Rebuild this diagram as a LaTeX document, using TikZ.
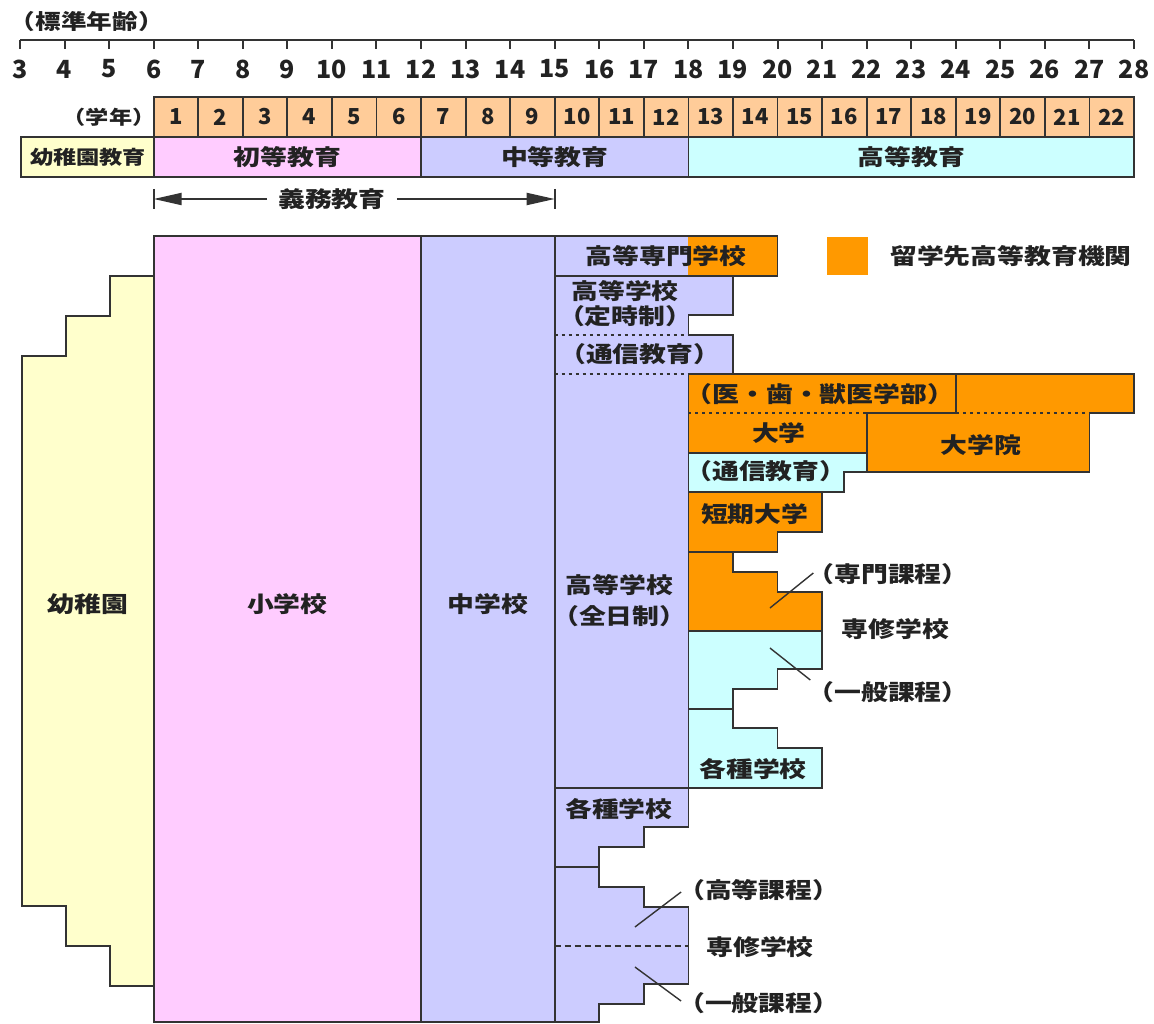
\documentclass[tikz,border=0pt]{standalone}
\usepackage{fontspec}
\usepackage{graphicx}
\usetikzlibrary{arrows.meta}
\newfontfamily\jpf{Noto Sans CJK JP}[FakeStretch=1.22]
\newfontfamily\numf{Noto Sans CJK JP}
\definecolor{cYel}{HTML}{FFFFCC}
\definecolor{cPink}{HTML}{FFCCFF}
\definecolor{cLav}{HTML}{CCCCFF}
\definecolor{cCyan}{HTML}{CCFFFF}
\definecolor{cOr}{HTML}{FF9900}
\definecolor{cGr}{HTML}{FFCC99}
\definecolor{ln}{HTML}{333333}
\definecolor{txt}{HTML}{222222}
\tikzset{
  lab/.style={font=\jpf\bfseries\fontsize{22}{24}\selectfont, text=txt, inner sep=0pt},
  labs/.style={font=\jpf\bfseries\fontsize{19}{21}\selectfont, text=txt, inner sep=0pt},
  rnum/.style={font=\numf\bfseries\fontsize{25}{27}\selectfont, text=txt, inner sep=0pt},
  gnum/.style={font=\numf\bfseries\fontsize{22}{24}\selectfont, text=txt, inner sep=0pt},
  box/.style={draw=ln, line width=1.8pt, line join=miter},
  dotl/.style={draw=ln, line width=2.6pt, dash pattern=on 3pt off 4pt},
  dashl/.style={draw=ln, line width=1.8pt, dash pattern=on 6pt off 4pt},
  lead/.style={draw=ln, line width=1.4pt},
  tick/.style={draw=ln, line width=2pt},
  garrow/.style={draw=ln, line width=2pt, -{Triangle[length=28pt,width=12pt]}},
}
\begin{document}
\begin{tikzpicture}[x=44.56pt,y=-1pt]
\useasboundingbox (2.5512,0) rectangle (28.4488,1024);
% ---------- ruler ----------
\node[lab, font=\jpf\bfseries\fontsize{21}{23}\selectfont] (std) at (4.50,22) {（標準年齢）};
\draw[tick, line width=2.5pt] (3,40) -- (28,40);
\foreach \a in {3,...,28} {
  \draw[tick] (\a,40) -- (\a,49);
  \node[rnum] (r\a) at (\a,69) {\a};
}
% ---------- grade row ----------
\node[labs] (gakunen) at (5.0,117) {（学年）};
\foreach \i in {1,...,22} {
  \filldraw[box, fill=cGr] ({5+\i},97) rectangle ({6+\i},137);
  \node[gnum] (g\i) at ({5.5+\i},117) {\i};
}
% ---------- education row ----------
\filldraw[box, fill=cYel] (3.03,137) rectangle (6,177);
\filldraw[box, fill=cPink] (6,137) rectangle (12,177);
\filldraw[box, fill=cLav] (12,137) rectangle (18,177);
\filldraw[box, fill=cCyan] (18,137) rectangle (28,177);
\node[labs] (eK) at (4.53,157) {幼稚園教育};
\node[lab] (eP) at (9,157) {初等教育};
\node[lab] (eS) at (15,157) {中等教育};
\node[lab] (eH) at (23,157) {高等教育};
% ---------- compulsory education ----------
\coordinate (gL) at (6,199);
\coordinate (gR) at (15,199);
\draw[tick] (6,189) -- (6,209);
\draw[tick] (15,189) -- (15,209);
\node[lab, inner xsep=11pt, fill=white] (gimu) at (10,199) {義務教育};
\draw[garrow] (gimu.west) -- (gL);
\draw[garrow] (gimu.east) -- (gR);
% ---------- kindergarten / elementary / middle ----------
\filldraw[box, fill=cYel] (6,276) -- (5.02,276) -- (5.02,316) -- (4.03,316) -- (4.03,356) -- (3.04,356) -- (3.04,906) -- (4.03,906) -- (4.03,946) -- (5.02,946) -- (5.02,986) -- (6,986);
\filldraw[box, fill=cPink] (6,236) rectangle (12,1022);
\filldraw[box, fill=cLav] (12,236) rectangle (15,1022);
\node[lab] (yochien) at (4.53,604) {幼稚園};
\node[lab] (shogakko) at (9,604) {小学校};
\node[lab] (chugakko) at (13.5,604) {中学校};
% ---------- college of technology ----------
\fill[cLav] (15,236) rectangle (18,276);
\fill[cOr] (18,236) rectangle (20,276);
\draw[box] (15,236) rectangle (20,276);
\node[lab] (kosen) at (17.50,256) {高等専門学校};
% ---------- upper secondary ----------
\filldraw[box, fill=cLav] (15,276) -- (19,276) -- (19,315) -- (18,315) -- (18,335) -- (19,335) -- (19,374) -- (18,374) -- (18,788) -- (15,788) -- cycle;
\draw[dotl] (15,335) -- (18,335);
\draw[dotl] (15,374) -- (18,374);
\node[lab] (teiji1) at (16.58,291) {高等学校};
\node[lab] (teiji2) at (16.58,316) {（定時制）};
\node[lab] (tsushin1) at (16.91,354) {（通信教育）};
\node[lab] (zen1) at (16.45,585) {高等学校};
\node[lab] (zen2) at (16.45,616) {（全日制）};
% ---------- university ----------
\filldraw[box, fill=cOr] (18,374) -- (28,374) -- (28,413) -- (27,413) -- (27,472) -- (22,472) -- (22,453) -- (18,453) -- cycle;
\draw[box] (24,374) -- (24,413) -- (22,413) -- (22,472);
\draw[dotl] (18,413) -- (22,413);
\draw[dotl] (24,413) -- (27,413);
\filldraw[box, fill=cCyan] (18,453) -- (22,453) -- (22,472) -- (21.5,472) -- (21.5,492) -- (18,492) -- cycle;
\draw[dotl] (18,453) -- (22,453);
\node[lab] (igaku) at (20.95,394) {（医・歯・獣医学部）};
\node[lab] (daigaku) at (20.03,433) {大学};
\node[lab] (daigakuin) at (24.57,445) {大学院};
\node[lab] (tsushin2) at (19.74,471) {（通信教育）};
% ---------- junior college ----------
\filldraw[box, fill=cOr] (18,492) -- (21,492) -- (21,532) -- (20,532) -- (20,552) -- (18,552) -- cycle;
\node[lab] (tanki) at (19.49,514) {短期大学};
% ---------- specialized training college ----------
\filldraw[box, fill=cOr] (18,552) -- (19,552) -- (19,572) -- (20,572) -- (20,592) -- (21,592) -- (21,631) -- (18,631) -- cycle;
\filldraw[box, fill=cCyan] (18,631) -- (21,631) -- (21,669) -- (20,669) -- (20,689) -- (19,689) -- (19,709) -- (18,709) -- cycle;
\draw[dashl] (18,631) -- (21,631);
\filldraw[box, fill=cCyan] (18,709) -- (19,709) -- (19,728) -- (20,728) -- (20,748) -- (21,748) -- (21,788) -- (18,788) -- cycle;
\node[lab] (senmon) at (22.48,574) {（専門課程）};
\node[lab] (senshu1) at (22.64,629) {専修学校};
\node[lab] (ippan1) at (22.48,692) {（一般課程）};
\node[lab] (kakushu1) at (19.45,769) {各種学校};
\coordinate (lsA) at (19.83,608);
\coordinate (lsB) at (19.83,648);
\draw[lead] (lsA) -- ([xshift=6pt,yshift=1pt]senmon.west);
\draw[lead] (lsB) -- ([xshift=3pt,yshift=12pt]ippan1.west);
% ---------- lower secondary-level schools ----------
\filldraw[box, fill=cLav] (15,788) -- (18,788) -- (18,827) -- (17,827) -- (17,847) -- (16,847) -- (16,867) -- (15,867) -- cycle;
\filldraw[box, fill=cLav] (15,867) -- (16,867) -- (16,887) -- (17,887) -- (17,907) -- (18,907) -- (18,984) -- (17,984) -- (17,1004) -- (16,1004) -- (16,1022) -- (15,1022) -- cycle;
\draw[dashl] (15,946) -- (18,946);
\node[lab] (kakushu2) at (16.44,809) {各種学校};
\node[lab] (koto) at (19.58,890) {（高等課程）};
\node[lab] (senshu2) at (19.61,947) {専修学校};
\node[lab] (ippan2) at (19.58,1003) {（一般課程）};
\coordinate (llA) at (16.8,927);
\coordinate (llB) at (16.8,967);
\draw[lead] (llA) -- ([xshift=3pt,yshift=-2pt]koto.west);
\draw[lead] (llB) -- ([xshift=3pt,yshift=2pt]ippan2.west);
% ---------- legend ----------
\fill[cOr] (21.11,237) coordinate (legA) rectangle (22.03,275);
\node[lab] (legend) at (25.24,256) {留学先高等教育機関};
\end{tikzpicture}
\end{document}
